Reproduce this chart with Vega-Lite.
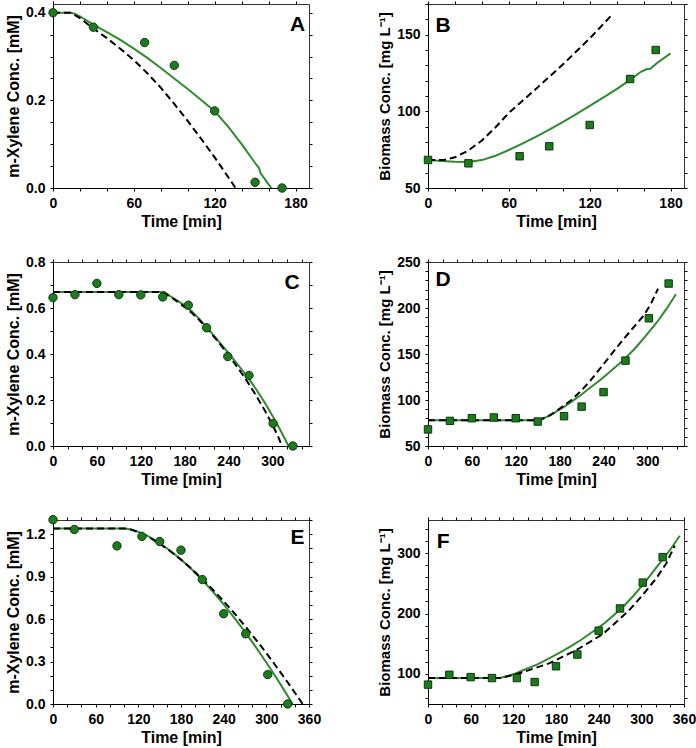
{
  "$schema": "https://vega.github.io/schema/vega-lite/v6.json",
  "background": "white",
  "padding": {"left": 5, "top": -4, "right": 5, "bottom": 5},
  "bounds": "flush",
  "columns": 2,
  "spacing": {"row": 74, "column": 119},
  "config": {
    "font": "Liberation Sans",
    "view": {"stroke": "#333", "strokeWidth": 1},
    "axis": {
      "labelFont": "Liberation Sans", "labelFontSize": 14, "labelFontWeight": "bold", "labelColor": "#000",
      "titleFont": "Liberation Sans", "titleFontSize": 16, "titleFontWeight": "bold", "titleColor": "#000",
      "tickColor": "#000", "tickSize": 3, "domainColor": "#000", "grid": false,
      "labelPadding": 5, "titlePadding": 3, "labelOverlap": false, "labelFlush": false, "labelBound": false
    },
    "axisY": {"titlePadding": 4}
  },
  "datasets": {
    "obs": [
      {"panel": "A", "t": 0, "c": 0.400}, {"panel": "A", "t": 30, "c": 0.367}, {"panel": "A", "t": 68, "c": 0.332}, {"panel": "A", "t": 90, "c": 0.280}, {"panel": "A", "t": 120, "c": 0.176}, {"panel": "A", "t": 150, "c": 0.013}, {"panel": "A", "t": 170, "c": 0.0},
      {"panel": "B", "t": 0, "c": 68.3}, {"panel": "B", "t": 30, "c": 66.1}, {"panel": "B", "t": 68, "c": 70.7}, {"panel": "B", "t": 90, "c": 77.2}, {"panel": "B", "t": 120, "c": 91.1}, {"panel": "B", "t": 150, "c": 121.1}, {"panel": "B", "t": 169, "c": 140.0},
      {"panel": "C", "t": 0, "c": 0.645}, {"panel": "C", "t": 30, "c": 0.658}, {"panel": "C", "t": 60, "c": 0.707}, {"panel": "C", "t": 90, "c": 0.658}, {"panel": "C", "t": 120, "c": 0.657}, {"panel": "C", "t": 150, "c": 0.648}, {"panel": "C", "t": 185, "c": 0.612}, {"panel": "C", "t": 210, "c": 0.514}, {"panel": "C", "t": 239, "c": 0.389}, {"panel": "C", "t": 268, "c": 0.307}, {"panel": "C", "t": 301, "c": 0.098}, {"panel": "C", "t": 328, "c": 0.0},
      {"panel": "D", "t": 0, "c": 68}, {"panel": "D", "t": 30, "c": 77.3}, {"panel": "D", "t": 60, "c": 80.2}, {"panel": "D", "t": 90, "c": 81}, {"panel": "D", "t": 120, "c": 80.2}, {"panel": "D", "t": 150, "c": 76.6}, {"panel": "D", "t": 186, "c": 82.4}, {"panel": "D", "t": 210, "c": 92.8}, {"panel": "D", "t": 240, "c": 108.6}, {"panel": "D", "t": 270, "c": 142.8}, {"panel": "D", "t": 302, "c": 188.8}, {"panel": "D", "t": 329, "c": 226.6},
      {"panel": "E", "t": 0, "c": 1.302}, {"panel": "E", "t": 30, "c": 1.233}, {"panel": "E", "t": 90, "c": 1.117}, {"panel": "E", "t": 125, "c": 1.184}, {"panel": "E", "t": 150, "c": 1.148}, {"panel": "E", "t": 180, "c": 1.087}, {"panel": "E", "t": 210, "c": 0.879}, {"panel": "E", "t": 240, "c": 0.638}, {"panel": "E", "t": 271, "c": 0.496}, {"panel": "E", "t": 302, "c": 0.208}, {"panel": "E", "t": 330, "c": 0.0},
      {"panel": "F", "t": 0, "c": 82.1}, {"panel": "F", "t": 30, "c": 98.4}, {"panel": "F", "t": 60, "c": 94.6}, {"panel": "F", "t": 90, "c": 93}, {"panel": "F", "t": 125, "c": 93}, {"panel": "F", "t": 150, "c": 86.4}, {"panel": "F", "t": 180, "c": 112.5}, {"panel": "F", "t": 210, "c": 132}, {"panel": "F", "t": 240, "c": 171.5}, {"panel": "F", "t": 270, "c": 208.4}, {"panel": "F", "t": 302, "c": 251.2}, {"panel": "F", "t": 330, "c": 293.5}
    ],
    "model": [
      {"panel": "A", "series": "fit", "t": 0, "c": 0.400}, {"panel": "A", "series": "fit", "t": 13, "c": 0.400}, {"panel": "A", "series": "fit", "t": 16, "c": 0.398}, {"panel": "A", "series": "fit", "t": 20, "c": 0.392}, {"panel": "A", "series": "fit", "t": 30, "c": 0.373}, {"panel": "A", "series": "fit", "t": 40, "c": 0.356}, {"panel": "A", "series": "fit", "t": 50, "c": 0.338}, {"panel": "A", "series": "fit", "t": 60, "c": 0.318}, {"panel": "A", "series": "fit", "t": 70, "c": 0.297}, {"panel": "A", "series": "fit", "t": 80, "c": 0.274}, {"panel": "A", "series": "fit", "t": 90, "c": 0.250}, {"panel": "A", "series": "fit", "t": 100, "c": 0.226}, {"panel": "A", "series": "fit", "t": 110, "c": 0.201}, {"panel": "A", "series": "fit", "t": 120, "c": 0.175}, {"panel": "A", "series": "fit", "t": 130, "c": 0.140}, {"panel": "A", "series": "fit", "t": 140, "c": 0.100}, {"panel": "A", "series": "fit", "t": 150, "c": 0.057}, {"panel": "A", "series": "fit", "t": 153, "c": 0.045}, {"panel": "A", "series": "fit", "t": 154, "c": 0.034}, {"panel": "A", "series": "fit", "t": 158, "c": 0.017}, {"panel": "A", "series": "fit", "t": 162, "c": 0.0},
      {"panel": "A", "series": "pred", "t": 0, "c": 0.400}, {"panel": "A", "series": "pred", "t": 13, "c": 0.400}, {"panel": "A", "series": "pred", "t": 20, "c": 0.388}, {"panel": "A", "series": "pred", "t": 30, "c": 0.364}, {"panel": "A", "series": "pred", "t": 40, "c": 0.342}, {"panel": "A", "series": "pred", "t": 50, "c": 0.318}, {"panel": "A", "series": "pred", "t": 60, "c": 0.292}, {"panel": "A", "series": "pred", "t": 70, "c": 0.262}, {"panel": "A", "series": "pred", "t": 80, "c": 0.229}, {"panel": "A", "series": "pred", "t": 90, "c": 0.192}, {"panel": "A", "series": "pred", "t": 100, "c": 0.153}, {"panel": "A", "series": "pred", "t": 110, "c": 0.112}, {"panel": "A", "series": "pred", "t": 120, "c": 0.070}, {"panel": "A", "series": "pred", "t": 130, "c": 0.025}, {"panel": "A", "series": "pred", "t": 135.5, "c": 0.0},
      {"panel": "B", "series": "fit", "t": 0, "c": 68.3}, {"panel": "B", "series": "fit", "t": 10, "c": 67.6}, {"panel": "B", "series": "fit", "t": 20, "c": 67.1}, {"panel": "B", "series": "fit", "t": 30, "c": 67.0}, {"panel": "B", "series": "fit", "t": 40, "c": 68.2}, {"panel": "B", "series": "fit", "t": 50, "c": 71.0}, {"panel": "B", "series": "fit", "t": 60, "c": 74.8}, {"panel": "B", "series": "fit", "t": 70, "c": 78.9}, {"panel": "B", "series": "fit", "t": 80, "c": 83.3}, {"panel": "B", "series": "fit", "t": 90, "c": 88.0}, {"panel": "B", "series": "fit", "t": 100, "c": 93.0}, {"panel": "B", "series": "fit", "t": 110, "c": 98.2}, {"panel": "B", "series": "fit", "t": 120, "c": 103.5}, {"panel": "B", "series": "fit", "t": 130, "c": 109.0}, {"panel": "B", "series": "fit", "t": 140, "c": 114.5}, {"panel": "B", "series": "fit", "t": 150, "c": 120.5}, {"panel": "B", "series": "fit", "t": 158, "c": 125.8}, {"panel": "B", "series": "fit", "t": 162, "c": 127.4}, {"panel": "B", "series": "fit", "t": 165, "c": 127.8}, {"panel": "B", "series": "fit", "t": 170, "c": 131.5}, {"panel": "B", "series": "fit", "t": 180, "c": 137.8},
      {"panel": "B", "series": "pred", "t": 0, "c": 68.3}, {"panel": "B", "series": "pred", "t": 12, "c": 68.3}, {"panel": "B", "series": "pred", "t": 20, "c": 70.0}, {"panel": "B", "series": "pred", "t": 30, "c": 74.5}, {"panel": "B", "series": "pred", "t": 40, "c": 81.0}, {"panel": "B", "series": "pred", "t": 50, "c": 89.5}, {"panel": "B", "series": "pred", "t": 60, "c": 99.0}, {"panel": "B", "series": "pred", "t": 70, "c": 106.8}, {"panel": "B", "series": "pred", "t": 80, "c": 114.5}, {"panel": "B", "series": "pred", "t": 90, "c": 122.5}, {"panel": "B", "series": "pred", "t": 100, "c": 130.5}, {"panel": "B", "series": "pred", "t": 110, "c": 139.0}, {"panel": "B", "series": "pred", "t": 120, "c": 147.5}, {"panel": "B", "series": "pred", "t": 130, "c": 156.8}, {"panel": "B", "series": "pred", "t": 137, "c": 163.5},
      {"panel": "C", "series": "fit", "t": 0, "c": 0.670}, {"panel": "C", "series": "fit", "t": 152, "c": 0.670}, {"panel": "C", "series": "fit", "t": 160, "c": 0.652}, {"panel": "C", "series": "fit", "t": 170, "c": 0.632}, {"panel": "C", "series": "fit", "t": 180, "c": 0.612}, {"panel": "C", "series": "fit", "t": 190, "c": 0.585}, {"panel": "C", "series": "fit", "t": 200, "c": 0.553}, {"panel": "C", "series": "fit", "t": 210, "c": 0.517}, {"panel": "C", "series": "fit", "t": 220, "c": 0.480}, {"panel": "C", "series": "fit", "t": 230, "c": 0.442}, {"panel": "C", "series": "fit", "t": 240, "c": 0.404}, {"panel": "C", "series": "fit", "t": 250, "c": 0.365}, {"panel": "C", "series": "fit", "t": 260, "c": 0.325}, {"panel": "C", "series": "fit", "t": 270, "c": 0.282}, {"panel": "C", "series": "fit", "t": 280, "c": 0.236}, {"panel": "C", "series": "fit", "t": 290, "c": 0.186}, {"panel": "C", "series": "fit", "t": 300, "c": 0.132}, {"panel": "C", "series": "fit", "t": 310, "c": 0.074}, {"panel": "C", "series": "fit", "t": 318, "c": 0.025}, {"panel": "C", "series": "fit", "t": 322, "c": 0.0},
      {"panel": "C", "series": "pred", "t": 0, "c": 0.670}, {"panel": "C", "series": "pred", "t": 150, "c": 0.670}, {"panel": "C", "series": "pred", "t": 160, "c": 0.650}, {"panel": "C", "series": "pred", "t": 170, "c": 0.628}, {"panel": "C", "series": "pred", "t": 180, "c": 0.604}, {"panel": "C", "series": "pred", "t": 190, "c": 0.578}, {"panel": "C", "series": "pred", "t": 200, "c": 0.548}, {"panel": "C", "series": "pred", "t": 210, "c": 0.513}, {"panel": "C", "series": "pred", "t": 220, "c": 0.476}, {"panel": "C", "series": "pred", "t": 230, "c": 0.436}, {"panel": "C", "series": "pred", "t": 240, "c": 0.395}, {"panel": "C", "series": "pred", "t": 250, "c": 0.352}, {"panel": "C", "series": "pred", "t": 260, "c": 0.307}, {"panel": "C", "series": "pred", "t": 270, "c": 0.259}, {"panel": "C", "series": "pred", "t": 280, "c": 0.207}, {"panel": "C", "series": "pred", "t": 290, "c": 0.152}, {"panel": "C", "series": "pred", "t": 300, "c": 0.092}, {"panel": "C", "series": "pred", "t": 308, "c": 0.040}, {"panel": "C", "series": "pred", "t": 313, "c": 0.0},
      {"panel": "D", "series": "fit", "t": 0, "c": 78.1}, {"panel": "D", "series": "fit", "t": 152, "c": 78.1}, {"panel": "D", "series": "fit", "t": 167, "c": 83.3}, {"panel": "D", "series": "fit", "t": 182, "c": 90.5}, {"panel": "D", "series": "fit", "t": 196, "c": 98.0}, {"panel": "D", "series": "fit", "t": 209, "c": 105.5}, {"panel": "D", "series": "fit", "t": 222, "c": 113.5}, {"panel": "D", "series": "fit", "t": 236, "c": 122.0}, {"panel": "D", "series": "fit", "t": 250, "c": 131.5}, {"panel": "D", "series": "fit", "t": 268, "c": 144.0}, {"panel": "D", "series": "fit", "t": 283, "c": 156.0}, {"panel": "D", "series": "fit", "t": 298, "c": 170.0}, {"panel": "D", "series": "fit", "t": 313, "c": 184.5}, {"panel": "D", "series": "fit", "t": 326, "c": 199.0}, {"panel": "D", "series": "fit", "t": 339, "c": 215.0},
      {"panel": "D", "series": "pred", "t": 0, "c": 78.1}, {"panel": "D", "series": "pred", "t": 152, "c": 78.1}, {"panel": "D", "series": "pred", "t": 167, "c": 83.5}, {"panel": "D", "series": "pred", "t": 182, "c": 91.7}, {"panel": "D", "series": "pred", "t": 196, "c": 100.0}, {"panel": "D", "series": "pred", "t": 209, "c": 109.7}, {"panel": "D", "series": "pred", "t": 222, "c": 121.0}, {"panel": "D", "series": "pred", "t": 236, "c": 135.0}, {"panel": "D", "series": "pred", "t": 250, "c": 149.0}, {"panel": "D", "series": "pred", "t": 265, "c": 164.0}, {"panel": "D", "series": "pred", "t": 280, "c": 178.0}, {"panel": "D", "series": "pred", "t": 295.5, "c": 192.4}, {"panel": "D", "series": "pred", "t": 305, "c": 205.0}, {"panel": "D", "series": "pred", "t": 314.5, "c": 221.0},
      {"panel": "E", "series": "fit", "t": 0, "c": 1.240}, {"panel": "E", "series": "fit", "t": 101, "c": 1.240}, {"panel": "E", "series": "fit", "t": 110, "c": 1.233}, {"panel": "E", "series": "fit", "t": 120, "c": 1.217}, {"panel": "E", "series": "fit", "t": 135, "c": 1.183}, {"panel": "E", "series": "fit", "t": 150, "c": 1.137}, {"panel": "E", "series": "fit", "t": 165, "c": 1.083}, {"panel": "E", "series": "fit", "t": 180, "c": 1.021}, {"panel": "E", "series": "fit", "t": 195, "c": 0.952}, {"panel": "E", "series": "fit", "t": 210, "c": 0.875}, {"panel": "E", "series": "fit", "t": 225, "c": 0.793}, {"panel": "E", "series": "fit", "t": 240, "c": 0.704}, {"panel": "E", "series": "fit", "t": 255, "c": 0.609}, {"panel": "E", "series": "fit", "t": 270, "c": 0.510}, {"panel": "E", "series": "fit", "t": 285, "c": 0.404}, {"panel": "E", "series": "fit", "t": 300, "c": 0.293}, {"panel": "E", "series": "fit", "t": 315, "c": 0.178}, {"panel": "E", "series": "fit", "t": 325, "c": 0.098}, {"panel": "E", "series": "fit", "t": 332, "c": 0.041}, {"panel": "E", "series": "fit", "t": 337, "c": 0.0},
      {"panel": "E", "series": "pred", "t": 0, "c": 1.240}, {"panel": "E", "series": "pred", "t": 101, "c": 1.240}, {"panel": "E", "series": "pred", "t": 110, "c": 1.232}, {"panel": "E", "series": "pred", "t": 120, "c": 1.214}, {"panel": "E", "series": "pred", "t": 135, "c": 1.178}, {"panel": "E", "series": "pred", "t": 150, "c": 1.132}, {"panel": "E", "series": "pred", "t": 165, "c": 1.079}, {"panel": "E", "series": "pred", "t": 180, "c": 1.020}, {"panel": "E", "series": "pred", "t": 195, "c": 0.954}, {"panel": "E", "series": "pred", "t": 210, "c": 0.883}, {"panel": "E", "series": "pred", "t": 225, "c": 0.807}, {"panel": "E", "series": "pred", "t": 240, "c": 0.726}, {"panel": "E", "series": "pred", "t": 255, "c": 0.641}, {"panel": "E", "series": "pred", "t": 270, "c": 0.551}, {"panel": "E", "series": "pred", "t": 285, "c": 0.457}, {"panel": "E", "series": "pred", "t": 300, "c": 0.360}, {"panel": "E", "series": "pred", "t": 315, "c": 0.258}, {"panel": "E", "series": "pred", "t": 330, "c": 0.153}, {"panel": "E", "series": "pred", "t": 340, "c": 0.081}, {"panel": "E", "series": "pred", "t": 346, "c": 0.037}, {"panel": "E", "series": "pred", "t": 351, "c": 0.0},
      {"panel": "F", "series": "fit", "t": 0, "c": 93}, {"panel": "F", "series": "fit", "t": 101, "c": 93}, {"panel": "F", "series": "fit", "t": 113, "c": 96.8}, {"panel": "F", "series": "fit", "t": 123, "c": 100.6}, {"panel": "F", "series": "fit", "t": 138, "c": 108}, {"panel": "F", "series": "fit", "t": 154, "c": 115.6}, {"panel": "F", "series": "fit", "t": 169, "c": 124.8}, {"panel": "F", "series": "fit", "t": 184, "c": 134.5}, {"panel": "F", "series": "fit", "t": 200, "c": 145}, {"panel": "F", "series": "fit", "t": 215, "c": 156.1}, {"panel": "F", "series": "fit", "t": 230, "c": 168.6}, {"panel": "F", "series": "fit", "t": 246, "c": 181.9}, {"panel": "F", "series": "fit", "t": 259, "c": 195}, {"panel": "F", "series": "fit", "t": 272, "c": 208.4}, {"panel": "F", "series": "fit", "t": 289, "c": 229.5}, {"panel": "F", "series": "fit", "t": 305, "c": 251.6}, {"panel": "F", "series": "fit", "t": 319, "c": 273}, {"panel": "F", "series": "fit", "t": 333, "c": 293.7}, {"panel": "F", "series": "fit", "t": 344, "c": 311.5}, {"panel": "F", "series": "fit", "t": 354, "c": 329},
      {"panel": "F", "series": "pred", "t": 0, "c": 93}, {"panel": "F", "series": "pred", "t": 102, "c": 93}, {"panel": "F", "series": "pred", "t": 118, "c": 97.5}, {"panel": "F", "series": "pred", "t": 133, "c": 102.5}, {"panel": "F", "series": "pred", "t": 148, "c": 108.5}, {"panel": "F", "series": "pred", "t": 170, "c": 117.3}, {"panel": "F", "series": "pred", "t": 189, "c": 128}, {"panel": "F", "series": "pred", "t": 208, "c": 139}, {"panel": "F", "series": "pred", "t": 225, "c": 151}, {"panel": "F", "series": "pred", "t": 246, "c": 166}, {"panel": "F", "series": "pred", "t": 264, "c": 185}, {"panel": "F", "series": "pred", "t": 284, "c": 206.8}, {"panel": "F", "series": "pred", "t": 302, "c": 231}, {"panel": "F", "series": "pred", "t": 321, "c": 258.3}, {"panel": "F", "series": "pred", "t": 335, "c": 283}, {"panel": "F", "series": "pred", "t": 347, "c": 312.5}
    ],
    "letters": [
      {"panel": "A", "t": 181.5, "c": 0.371, "label": "A"},
      {"panel": "B", "t": 11.1, "c": 155.9, "label": "B"},
      {"panel": "C", "t": 326.8, "c": 0.709, "label": "C"},
      {"panel": "D", "t": 20.5, "c": 230.5, "label": "D"},
      {"panel": "E", "t": 344, "c": 1.174, "label": "E"},
      {"panel": "F", "t": 21.3, "c": 318.8, "label": "F"}
    ]
  },
  "concat": [
    {
      "width": 256, "height": 184,
      "layer": [
        {
          "encoding": {
            "x": {"field": "t", "type": "quantitative", "scale": {"domain": [0, 190], "nice": false, "zero": false}, "axis": {"title": "Time [min]", "values": [0, 20, 40, 60, 80, 100, 120, 140, 160, 180], "labelExpr": "datum.value % 60 == 0 ? datum.label : ''"}},
            "y": {"field": "c", "type": "quantitative", "scale": {"domain": [0, 0.42], "nice": false, "zero": false}, "axis": {"title": "m-Xylene Conc. [mM]", "values": [0, 0.05, 0.1, 0.15, 0.2, 0.25, 0.3, 0.35, 0.4], "labelExpr": "round(datum.value * 100) % 20 == 0 ? format(datum.value, '.1f') : ''"}}
          },
          "layer": [
            {"data": {"name": "model"}, "transform": [{"filter": "datum.panel == 'A' && datum.series == 'fit'"}], "mark": {"type": "line", "color": "#2E8B2E", "strokeWidth": 2}, "encoding": {}},
            {"data": {"name": "model"}, "transform": [{"filter": "datum.panel == 'A' && datum.series == 'pred'"}], "mark": {"type": "line", "color": "#000000", "strokeWidth": 2, "strokeDash": [7, 4]}, "encoding": {}},
            {"data": {"name": "obs"}, "transform": [{"filter": "datum.panel == 'A'"}], "mark": {"type": "point", "shape": "circle", "filled": true, "size": 70, "fill": "#1E7A1E", "stroke": "#0A3A0A", "strokeWidth": 1, "opacity": 1}},
            {"data": {"name": "letters"}, "transform": [{"filter": "datum.panel == 'A'"}], "mark": {"type": "text", "fontSize": 21, "fontWeight": "bold", "color": "#000", "align": "center", "baseline": "middle"}, "encoding": {"text": {"field": "label"}}}
          ]
        },
        {
          "data": {"name": "obs"}, "transform": [{"filter": "datum.panel == 'A'"}],
          "mark": {"type": "point", "opacity": 0},
          "encoding": {
            "x": {"field": "t", "type": "quantitative", "scale": {"domain": [0, 190], "nice": false, "zero": false}, "axis": {"orient": "top", "labels": false, "title": null, "domain": false, "values": [0, 20, 40, 60, 80, 100, 120, 140, 160, 180]}},
            "y": {"field": "c", "type": "quantitative", "scale": {"domain": [0, 0.42], "nice": false, "zero": false}, "axis": {"orient": "right", "labels": false, "title": null, "domain": false, "values": [0, 0.05, 0.1, 0.15, 0.2, 0.25, 0.3, 0.35, 0.4]}}
          }
        }
      ],
      "resolve": {"scale": {"x": "independent", "y": "independent"}}
    },
    {
      "width": 256, "height": 184,
      "layer": [
        {
          "encoding": {
            "x": {"field": "t", "type": "quantitative", "scale": {"domain": [0, 190], "nice": false, "zero": false}, "axis": {"title": "Time [min]", "values": [0, 20, 40, 60, 80, 100, 120, 140, 160, 180], "labelExpr": "datum.value % 60 == 0 ? datum.label : ''"}},
            "y": {"field": "c", "type": "quantitative", "scale": {"domain": [50, 170], "nice": false, "zero": false}, "axis": {"title": "Biomass Conc. [mg L⁻¹]", "titleFontSize": 15, "values": [50, 60, 70, 80, 90, 100, 110, 120, 130, 140, 150, 160, 170], "labelExpr": "datum.value % 50 == 0 ? datum.label : ''"}}
          },
          "layer": [
            {"data": {"name": "model"}, "transform": [{"filter": "datum.panel == 'B' && datum.series == 'fit'"}], "mark": {"type": "line", "color": "#2E8B2E", "strokeWidth": 2}, "encoding": {}},
            {"data": {"name": "model"}, "transform": [{"filter": "datum.panel == 'B' && datum.series == 'pred'"}], "mark": {"type": "line", "color": "#000000", "strokeWidth": 2, "strokeDash": [7, 4]}, "encoding": {}},
            {"data": {"name": "obs"}, "transform": [{"filter": "datum.panel == 'B'"}], "mark": {"type": "point", "shape": "square", "filled": true, "size": 55, "fill": "#1E7A1E", "stroke": "#0A3A0A", "strokeWidth": 1, "opacity": 1}},
            {"data": {"name": "letters"}, "transform": [{"filter": "datum.panel == 'B'"}], "mark": {"type": "text", "fontSize": 21, "fontWeight": "bold", "color": "#000", "align": "center", "baseline": "middle"}, "encoding": {"text": {"field": "label"}}}
          ]
        },
        {
          "data": {"name": "obs"}, "transform": [{"filter": "datum.panel == 'B'"}],
          "mark": {"type": "point", "opacity": 0},
          "encoding": {
            "x": {"field": "t", "type": "quantitative", "scale": {"domain": [0, 190], "nice": false, "zero": false}, "axis": {"orient": "top", "labels": false, "title": null, "domain": false, "values": [0, 20, 40, 60, 80, 100, 120, 140, 160, 180]}},
            "y": {"field": "c", "type": "quantitative", "scale": {"domain": [50, 170], "nice": false, "zero": false}, "axis": {"orient": "right", "labels": false, "title": null, "domain": false, "values": [50, 60, 70, 80, 90, 100, 110, 120, 130, 140, 150, 160, 170]}}
          }
        }
      ],
      "resolve": {"scale": {"x": "independent", "y": "independent"}}
    },
    {
      "width": 256, "height": 184,
      "layer": [
        {
          "encoding": {
            "x": {"field": "t", "type": "quantitative", "scale": {"domain": [0, 350], "nice": false, "zero": false}, "axis": {"title": "Time [min]", "values": [0, 20, 40, 60, 80, 100, 120, 140, 160, 180, 200, 220, 240, 260, 280, 300, 320, 340], "labelExpr": "datum.value % 60 == 0 ? datum.label : ''"}},
            "y": {"field": "c", "type": "quantitative", "scale": {"domain": [0, 0.8], "nice": false, "zero": false}, "axis": {"title": "m-Xylene Conc. [mM]", "values": [0, 0.1, 0.2, 0.3, 0.4, 0.5, 0.6, 0.7, 0.8], "labelExpr": "round(datum.value * 10) % 2 == 0 ? format(datum.value, '.1f') : ''"}}
          },
          "layer": [
            {"data": {"name": "model"}, "transform": [{"filter": "datum.panel == 'C' && datum.series == 'fit'"}], "mark": {"type": "line", "color": "#2E8B2E", "strokeWidth": 2}, "encoding": {}},
            {"data": {"name": "model"}, "transform": [{"filter": "datum.panel == 'C' && datum.series == 'pred'"}], "mark": {"type": "line", "color": "#000000", "strokeWidth": 2, "strokeDash": [7, 4]}, "encoding": {}},
            {"data": {"name": "obs"}, "transform": [{"filter": "datum.panel == 'C'"}], "mark": {"type": "point", "shape": "circle", "filled": true, "size": 70, "fill": "#1E7A1E", "stroke": "#0A3A0A", "strokeWidth": 1, "opacity": 1}},
            {"data": {"name": "letters"}, "transform": [{"filter": "datum.panel == 'C'"}], "mark": {"type": "text", "fontSize": 21, "fontWeight": "bold", "color": "#000", "align": "center", "baseline": "middle"}, "encoding": {"text": {"field": "label"}}}
          ]
        },
        {
          "data": {"name": "obs"}, "transform": [{"filter": "datum.panel == 'C'"}],
          "mark": {"type": "point", "opacity": 0},
          "encoding": {
            "x": {"field": "t", "type": "quantitative", "scale": {"domain": [0, 350], "nice": false, "zero": false}, "axis": {"orient": "top", "labels": false, "title": null, "domain": false, "values": [0, 20, 40, 60, 80, 100, 120, 140, 160, 180, 200, 220, 240, 260, 280, 300, 320, 340]}},
            "y": {"field": "c", "type": "quantitative", "scale": {"domain": [0, 0.8], "nice": false, "zero": false}, "axis": {"orient": "right", "labels": false, "title": null, "domain": false, "values": [0, 0.1, 0.2, 0.3, 0.4, 0.5, 0.6, 0.7, 0.8]}}
          }
        }
      ],
      "resolve": {"scale": {"x": "independent", "y": "independent"}}
    },
    {
      "width": 256, "height": 184,
      "layer": [
        {
          "encoding": {
            "x": {"field": "t", "type": "quantitative", "scale": {"domain": [0, 350], "nice": false, "zero": false}, "axis": {"title": "Time [min]", "values": [0, 20, 40, 60, 80, 100, 120, 140, 160, 180, 200, 220, 240, 260, 280, 300, 320, 340], "labelExpr": "datum.value % 60 == 0 ? datum.label : ''"}},
            "y": {"field": "c", "type": "quantitative", "scale": {"domain": [50, 250], "nice": false, "zero": false}, "axis": {"title": "Biomass Conc. [mg L⁻¹]", "titleFontSize": 15, "values": [50, 60, 70, 80, 90, 100, 110, 120, 130, 140, 150, 160, 170, 180, 190, 200, 210, 220, 230, 240, 250], "labelExpr": "datum.value % 50 == 0 ? datum.label : ''"}}
          },
          "layer": [
            {"data": {"name": "model"}, "transform": [{"filter": "datum.panel == 'D' && datum.series == 'fit'"}], "mark": {"type": "line", "color": "#2E8B2E", "strokeWidth": 2}, "encoding": {}},
            {"data": {"name": "model"}, "transform": [{"filter": "datum.panel == 'D' && datum.series == 'pred'"}], "mark": {"type": "line", "color": "#000000", "strokeWidth": 2, "strokeDash": [7, 4]}, "encoding": {}},
            {"data": {"name": "obs"}, "transform": [{"filter": "datum.panel == 'D'"}], "mark": {"type": "point", "shape": "square", "filled": true, "size": 55, "fill": "#1E7A1E", "stroke": "#0A3A0A", "strokeWidth": 1, "opacity": 1}},
            {"data": {"name": "letters"}, "transform": [{"filter": "datum.panel == 'D'"}], "mark": {"type": "text", "fontSize": 21, "fontWeight": "bold", "color": "#000", "align": "center", "baseline": "middle"}, "encoding": {"text": {"field": "label"}}}
          ]
        },
        {
          "data": {"name": "obs"}, "transform": [{"filter": "datum.panel == 'D'"}],
          "mark": {"type": "point", "opacity": 0},
          "encoding": {
            "x": {"field": "t", "type": "quantitative", "scale": {"domain": [0, 350], "nice": false, "zero": false}, "axis": {"orient": "top", "labels": false, "title": null, "domain": false, "values": [0, 20, 40, 60, 80, 100, 120, 140, 160, 180, 200, 220, 240, 260, 280, 300, 320, 340]}},
            "y": {"field": "c", "type": "quantitative", "scale": {"domain": [50, 250], "nice": false, "zero": false}, "axis": {"orient": "right", "labels": false, "title": null, "domain": false, "values": [50, 60, 70, 80, 90, 100, 110, 120, 130, 140, 150, 160, 170, 180, 190, 200, 210, 220, 230, 240, 250]}}
          }
        }
      ],
      "resolve": {"scale": {"x": "independent", "y": "independent"}}
    },
    {
      "width": 256, "height": 184,
      "layer": [
        {
          "encoding": {
            "x": {"field": "t", "type": "quantitative", "scale": {"domain": [0, 360], "nice": false, "zero": false}, "axis": {"title": "Time [min]", "values": [0, 20, 40, 60, 80, 100, 120, 140, 160, 180, 200, 220, 240, 260, 280, 300, 320, 340, 360], "labelExpr": "datum.value % 60 == 0 ? datum.label : ''"}},
            "y": {"field": "c", "type": "quantitative", "scale": {"domain": [0, 1.3], "nice": false, "zero": false}, "axis": {"title": "m-Xylene Conc. [mM]", "values": [0, 0.1, 0.2, 0.3, 0.4, 0.5, 0.6, 0.7, 0.8, 0.9, 1.0, 1.1, 1.2, 1.3], "labelExpr": "round(datum.value * 10) % 3 == 0 ? format(datum.value, '.1f') : ''"}}
          },
          "layer": [
            {"data": {"name": "model"}, "transform": [{"filter": "datum.panel == 'E' && datum.series == 'fit'"}], "mark": {"type": "line", "color": "#2E8B2E", "strokeWidth": 2}, "encoding": {}},
            {"data": {"name": "model"}, "transform": [{"filter": "datum.panel == 'E' && datum.series == 'pred'"}], "mark": {"type": "line", "color": "#000000", "strokeWidth": 2, "strokeDash": [7, 4]}, "encoding": {}},
            {"data": {"name": "obs"}, "transform": [{"filter": "datum.panel == 'E'"}], "mark": {"type": "point", "shape": "circle", "filled": true, "size": 70, "fill": "#1E7A1E", "stroke": "#0A3A0A", "strokeWidth": 1, "opacity": 1}},
            {"data": {"name": "letters"}, "transform": [{"filter": "datum.panel == 'E'"}], "mark": {"type": "text", "fontSize": 21, "fontWeight": "bold", "color": "#000", "align": "center", "baseline": "middle"}, "encoding": {"text": {"field": "label"}}}
          ]
        },
        {
          "data": {"name": "obs"}, "transform": [{"filter": "datum.panel == 'E'"}],
          "mark": {"type": "point", "opacity": 0},
          "encoding": {
            "x": {"field": "t", "type": "quantitative", "scale": {"domain": [0, 360], "nice": false, "zero": false}, "axis": {"orient": "top", "labels": false, "title": null, "domain": false, "values": [0, 20, 40, 60, 80, 100, 120, 140, 160, 180, 200, 220, 240, 260, 280, 300, 320, 340, 360]}},
            "y": {"field": "c", "type": "quantitative", "scale": {"domain": [0, 1.3], "nice": false, "zero": false}, "axis": {"orient": "right", "labels": false, "title": null, "domain": false, "values": [0, 0.1, 0.2, 0.3, 0.4, 0.5, 0.6, 0.7, 0.8, 0.9, 1.0, 1.1, 1.2, 1.3]}}
          }
        }
      ],
      "resolve": {"scale": {"x": "independent", "y": "independent"}}
    },
    {
      "width": 256, "height": 184,
      "layer": [
        {
          "encoding": {
            "x": {"field": "t", "type": "quantitative", "scale": {"domain": [0, 360], "nice": false, "zero": false}, "axis": {"title": "Time [min]", "values": [0, 20, 40, 60, 80, 100, 120, 140, 160, 180, 200, 220, 240, 260, 280, 300, 320, 340, 360], "labelExpr": "datum.value % 60 == 0 ? datum.label : ''"}},
            "y": {"field": "c", "type": "quantitative", "scale": {"domain": [50, 355], "nice": false, "zero": false}, "axis": {"title": "Biomass Conc. [mg L⁻¹]", "titleFontSize": 15, "values": [60, 80, 100, 120, 140, 160, 180, 200, 220, 240, 260, 280, 300, 320, 340], "labelExpr": "datum.value % 100 == 0 ? datum.label : ''"}}
          },
          "layer": [
            {"data": {"name": "model"}, "transform": [{"filter": "datum.panel == 'F' && datum.series == 'fit'"}], "mark": {"type": "line", "color": "#2E8B2E", "strokeWidth": 2}, "encoding": {}},
            {"data": {"name": "model"}, "transform": [{"filter": "datum.panel == 'F' && datum.series == 'pred'"}], "mark": {"type": "line", "color": "#000000", "strokeWidth": 2, "strokeDash": [7, 4]}, "encoding": {}},
            {"data": {"name": "obs"}, "transform": [{"filter": "datum.panel == 'F'"}], "mark": {"type": "point", "shape": "square", "filled": true, "size": 55, "fill": "#1E7A1E", "stroke": "#0A3A0A", "strokeWidth": 1, "opacity": 1}},
            {"data": {"name": "letters"}, "transform": [{"filter": "datum.panel == 'F'"}], "mark": {"type": "text", "fontSize": 21, "fontWeight": "bold", "color": "#000", "align": "center", "baseline": "middle"}, "encoding": {"text": {"field": "label"}}}
          ]
        },
        {
          "data": {"name": "obs"}, "transform": [{"filter": "datum.panel == 'F'"}],
          "mark": {"type": "point", "opacity": 0},
          "encoding": {
            "x": {"field": "t", "type": "quantitative", "scale": {"domain": [0, 360], "nice": false, "zero": false}, "axis": {"orient": "top", "labels": false, "title": null, "domain": false, "values": [0, 20, 40, 60, 80, 100, 120, 140, 160, 180, 200, 220, 240, 260, 280, 300, 320, 340, 360]}},
            "y": {"field": "c", "type": "quantitative", "scale": {"domain": [50, 355], "nice": false, "zero": false}, "axis": {"orient": "right", "labels": false, "title": null, "domain": false, "values": [60, 80, 100, 120, 140, 160, 180, 200, 220, 240, 260, 280, 300, 320, 340]}}
          }
        }
      ],
      "resolve": {"scale": {"x": "independent", "y": "independent"}}
    }
  ]
}
